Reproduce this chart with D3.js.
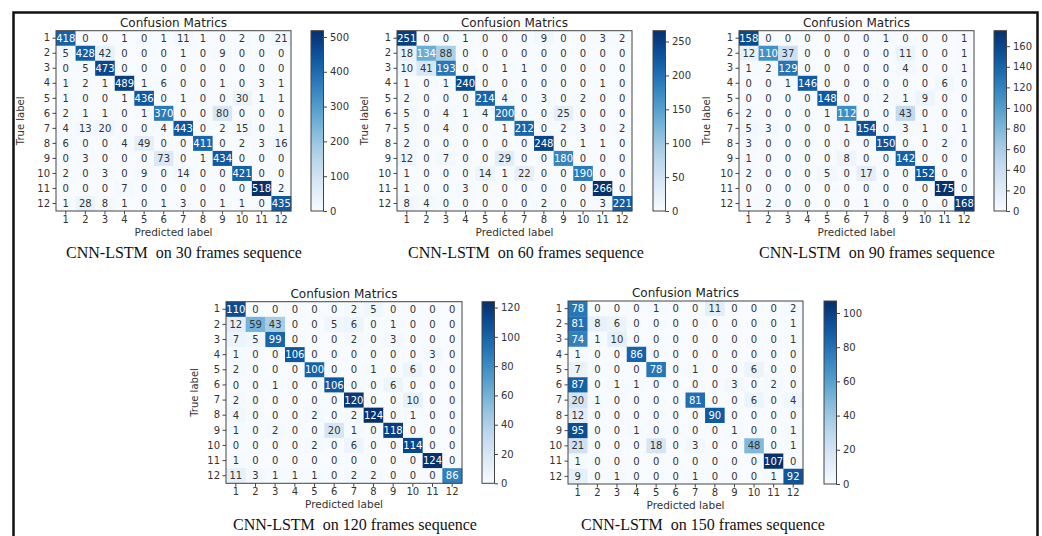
<!DOCTYPE html>
<html>
<head>
<meta charset="utf-8">
<script src="https://cdn.jsdelivr.net/npm/d3@7"></script>
<style>
  body { margin: 0; background: #fff; }
  svg { display: block; }
  .tick text { font-family: "DejaVu Sans", sans-serif; font-size: 10px; fill: #333; }
  .tick line { stroke: #444; }
  .domain { stroke: #444; }
</style>
</head>
<body>
<svg id="chart" width="1042" height="536"></svg>
<script>
// class labels (same on both axes)
var classLabels = ["1","2","3","4","5","6","7","8","9","10","11","12"];

// confusion matrices, rows = true label, columns = predicted label
var cm30 = [
  [418,0,0,1,0,1,11,1,0,2,0,21],
  [5,428,42,0,0,0,1,0,9,0,0,0],
  [0,5,473,0,0,0,0,0,0,0,0,0],
  [1,2,1,489,1,6,0,0,1,0,3,1],
  [1,0,0,1,436,0,1,0,0,30,1,1],
  [2,1,1,0,1,370,0,0,80,0,0,0],
  [4,13,20,0,0,4,443,0,2,15,0,1],
  [6,0,0,4,49,0,0,411,0,2,3,16],
  [0,3,0,0,0,73,0,1,434,0,0,0],
  [2,0,3,0,9,0,14,0,0,421,0,0],
  [0,0,0,7,0,0,0,0,0,0,518,2],
  [1,28,8,1,0,1,3,0,1,1,0,435]
];
var cm60 = [
  [251,0,0,1,0,0,0,9,0,0,3,2],
  [18,134,88,0,0,0,0,0,0,0,0,0],
  [10,41,193,0,0,1,1,0,0,0,0,0],
  [1,0,1,240,0,0,0,0,0,0,1,0],
  [2,0,0,0,214,4,0,3,0,2,0,0],
  [5,0,4,1,4,200,0,0,25,0,0,0],
  [5,0,4,0,0,1,212,0,2,3,0,2],
  [2,0,0,0,0,0,0,248,0,1,1,0],
  [12,0,7,0,0,29,0,0,180,0,0,0],
  [1,0,0,0,14,1,22,0,0,190,0,0],
  [1,0,0,3,0,0,0,0,0,0,266,0],
  [8,4,0,0,0,0,0,2,0,0,3,221]
];
var cm90 = [
  [158,0,0,0,0,0,0,1,0,0,0,1],
  [12,110,37,0,0,0,0,0,11,0,0,1],
  [1,2,129,0,0,0,0,0,4,0,0,1],
  [0,0,1,146,0,0,0,0,0,0,6,0],
  [0,0,0,0,148,0,0,2,1,9,0,0],
  [2,0,0,0,1,112,0,0,43,0,0,0],
  [5,3,0,0,0,1,154,0,3,1,0,1],
  [3,0,0,0,0,0,0,150,0,0,2,0],
  [1,0,0,0,0,8,0,0,142,0,0,0],
  [2,0,0,0,5,0,17,0,0,152,0,0],
  [0,0,0,0,0,0,0,0,0,0,175,0],
  [1,2,0,0,0,0,1,0,0,0,0,168]
];
var cm120 = [
  [110,0,0,0,0,0,2,5,0,0,0,0],
  [12,59,43,0,0,5,6,0,1,0,0,0],
  [7,5,99,0,0,0,2,0,3,0,0,0],
  [1,0,0,106,0,0,0,0,0,0,3,0],
  [2,0,0,0,100,0,0,1,0,6,0,0],
  [0,0,1,0,0,106,0,0,6,0,0,0],
  [2,0,0,0,0,0,120,0,0,10,0,0],
  [4,0,0,0,2,0,2,124,0,1,0,0],
  [1,0,2,0,0,20,1,0,118,0,0,0],
  [0,0,0,0,2,0,6,0,0,114,0,0],
  [1,0,0,0,0,0,0,0,0,0,124,0],
  [11,3,1,1,1,0,2,2,0,0,0,86]
];
var cm150 = [
  [78,0,0,0,1,0,0,11,0,0,0,2],
  [81,8,6,0,0,0,0,0,0,0,0,1],
  [74,1,10,0,0,0,0,0,0,0,0,1],
  [1,0,0,86,0,0,0,0,0,0,0,0],
  [7,0,0,0,78,0,1,0,0,6,0,0],
  [87,0,1,1,0,0,0,0,3,0,2,0],
  [20,1,0,0,0,0,81,0,0,6,0,4],
  [12,0,0,0,0,0,0,90,0,0,0,0],
  [95,0,0,1,0,0,0,0,1,0,0,1],
  [21,0,0,0,18,0,3,0,0,48,0,1],
  [1,0,0,0,0,0,0,0,0,0,107,0],
  [9,0,1,0,0,0,1,0,0,0,1,92]
];

// colorbar ticks for each panel
var cbTicks30 = [0,100,200,300,400,500];
var cbTicks60 = [0,50,100,150,200,250];
var cbTicks90 = [0,20,40,60,80,100,120,140,160];
var cbTicks120 = [0,20,40,60,80,100,120];
var cbTicks150 = [0,20,40,60,80,100];

var captions = [
  "CNN-LSTM  on 30 frames sequence",
  "CNN-LSTM  on 60 frames sequence",
  "CNN-LSTM  on 90 frames sequence",
  "CNN-LSTM  on 120 frames sequence",
  "CNN-LSTM  on 150 frames sequence"
];

// where each panel sits on the page
var panels = [
  {m: cm30,  ticks: cbTicks30,  cap: captions[0], x0: 56,  x1: 291, y0: 30.7,  y1: 211,   cbx: 311, ylabX: 21,  capX: 184, capY: 258},
  {m: cm60,  ticks: cbTicks60,  cap: captions[1], x0: 397, x1: 632, y0: 30.7,  y1: 211,   cbx: 653, ylabX: 365, capX: 526, capY: 258},
  {m: cm90,  ticks: cbTicks90,  cap: captions[2], x0: 739, x1: 974, y0: 30.7,  y1: 211,   cbx: 994, ylabX: 707, capX: 877, capY: 258},
  {m: cm120, ticks: cbTicks120, cap: captions[3], x0: 226, x1: 462, y0: 301.7, y1: 483.3, cbx: 482, ylabX: 195, capX: 355, capY: 530},
  {m: cm150, ticks: cbTicks150, cap: captions[4], x0: 568, x1: 803, y0: 301,   y1: 484,   cbx: 824, ylabX: null, capX: 703, capY: 530}
];

var svg = d3.select('#chart');

// outer frame (bottom edge runs off the picture)
svg.append('path')
  .attr('d', 'M13.5,540 L13.5,12.5 L1037.5,12.5 L1037.5,540')
  .attr('fill', 'none').attr('stroke', '#111').attr('stroke-width', 2.5);

var defs = svg.append('defs');

function drawPanel(p, idx) {
  var maxV = d3.max(p.m, function(r){ return d3.max(r); });
  var color = d3.scaleSequential(d3.interpolateBlues).domain([0, maxV]);

  var x = d3.scaleBand().domain(classLabels).range([p.x0, p.x1]);
  var y = d3.scaleBand().domain(classLabels).range([p.y0, p.y1]);

  var g = svg.append('g');

  var cells = [];
  p.m.forEach(function(row, i){
    row.forEach(function(v, j){ cells.push({r: classLabels[i], c: classLabels[j], v: v}); });
  });

  g.selectAll('rect.cell').data(cells).enter().append('rect')
    .attr('class', 'cell')
    .attr('x', function(d){ return x(d.c); })
    .attr('y', function(d){ return y(d.r); })
    .attr('width', x.bandwidth() + 0.3)
    .attr('height', y.bandwidth() + 0.3)
    .attr('fill', function(d){ return color(d.v); });

  g.selectAll('text.val').data(cells).enter().append('text')
    .attr('class', 'val')
    .attr('x', function(d){ return x(d.c) + x.bandwidth()/2; })
    .attr('y', function(d){ return y(d.r) + y.bandwidth()/2; })
    .attr('dy', '0.36em')
    .attr('text-anchor', 'middle')
    .style('font-family', '"DejaVu Sans", sans-serif')
    .style('font-size', '10px')
    .attr('fill', function(d){ return d.v > maxV/2 ? '#fff' : '#333'; })
    .text(function(d){ return d.v; });

  // frame of the matrix
  g.append('rect')
    .attr('x', p.x0).attr('y', p.y0)
    .attr('width', p.x1 - p.x0).attr('height', p.y1 - p.y0)
    .attr('fill', 'none').attr('stroke', '#444').attr('stroke-width', 1);

  g.append('g').attr('transform', 'translate(' + p.x0 + ',0)')
    .call(d3.axisLeft(y).tickSize(3.5).tickPadding(2.5))
    .call(function(a){ a.select('.domain').remove(); });

  g.append('g').attr('transform', 'translate(0,' + p.y1 + ')')
    .call(d3.axisBottom(x).tickSize(3.5).tickPadding(1.5))
    .call(function(a){ a.select('.domain').remove(); });

  var midX = (p.x0 + p.x1) / 2;
  g.append('text')
    .attr('x', midX).attr('y', p.y0 - 4)
    .attr('text-anchor', 'middle')
    .style('font-family', '"DejaVu Sans", sans-serif').style('font-size', '12px')
    .attr('fill', '#222')
    .text('Confusion Matrics');

  g.append('text')
    .attr('x', midX).attr('y', p.y1 + 25)
    .attr('text-anchor', 'middle')
    .style('font-family', '"DejaVu Sans", sans-serif').style('font-size', '10.5px')
    .attr('fill', '#333')
    .text('Predicted label');

  if (p.ylabX !== null) {
    g.append('text')
      .attr('transform', 'translate(' + (p.ylabX + 3) + ',' + ((p.y0 + p.y1)/2) + ') rotate(-90)')
      .attr('text-anchor', 'middle')
      .style('font-family', '"DejaVu Sans", sans-serif').style('font-size', '10px')
      .attr('fill', '#333')
      .text('True label');
  }

  // colorbar
  var gradId = 'grad' + idx;
  var grad = defs.append('linearGradient').attr('id', gradId)
    .attr('x1', 0).attr('y1', 1).attr('x2', 0).attr('y2', 0);
  d3.range(0, 1.0001, 0.05).forEach(function(t){
    grad.append('stop').attr('offset', t).attr('stop-color', color(t * maxV));
  });
  var cbW = 12.5;
  var cs = d3.scaleLinear().domain([0, maxV]).range([p.y1, p.y0]);
  g.append('rect')
    .attr('x', p.cbx).attr('y', p.y0)
    .attr('width', cbW).attr('height', p.y1 - p.y0)
    .attr('fill', 'url(#' + gradId + ')')
    .attr('stroke', '#444').attr('stroke-width', 1);
  g.append('g').attr('transform', 'translate(' + (p.cbx + cbW) + ',0)')
    .call(d3.axisRight(cs).tickValues(p.ticks).tickSize(3.5).tickPadding(3))
    .call(function(a){ a.select('.domain').remove(); });

  // caption under the panel
  g.append('text')
    .attr('x', p.capX).attr('y', p.capY)
    .attr('text-anchor', 'middle')
    .style('font-family', '"Liberation Serif", "Times New Roman", serif')
    .style('font-size', '16px')
    .style('white-space', 'pre')
    .attr('xml:space', 'preserve')
    .attr('fill', '#111')
    .text(p.cap);
}

panels.forEach(drawPanel);
</script>
</body>
</html>
